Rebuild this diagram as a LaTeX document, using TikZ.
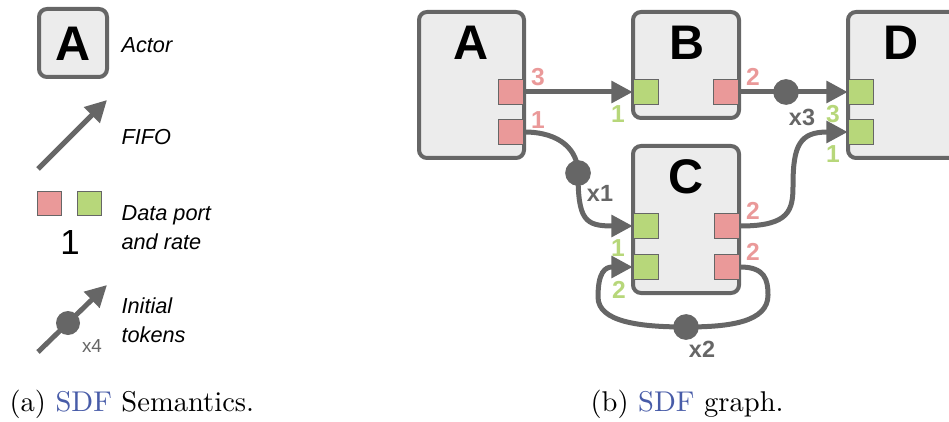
\documentclass[tikz,border=0pt]{standalone}
\usepackage{fontspec}
\newfontfamily\arialfont{Liberation Sans}
\usetikzlibrary{arrows.meta}
\definecolor{linegray}{HTML}{666666}
\definecolor{boxfill}{HTML}{ECECEC}
\definecolor{outred}{HTML}{EA9999}
\definecolor{ingreen}{HTML}{B7D77A}
\definecolor{linkblue}{RGB}{72,92,168}

\begin{document}
\begin{tikzpicture}[x=0.35pt,y=-0.35pt,
  actor/.style={draw=linegray, line width=1.4pt, fill=boxfill, rounded corners=2.8pt, inner sep=0pt},
  port/.style={draw=linegray, line width=0.5pt, minimum size=8.8pt, inner sep=0pt},
  outport/.style={port, fill=outred},
  inport/.style={port, fill=ingreen},
  fifo/.style={draw=linegray, line width=1.75pt, -{Triangle[length=7.5pt,width=7.5pt]}},
  token/.style={circle, fill=linegray, minimum size=9pt, inner sep=0pt},
  letter/.style={font=\arialfont\bfseries\fontsize{17}{17}\selectfont, inner sep=0pt},
  legendtxt/.style={font=\arialfont\itshape\fontsize{7.6}{9.9}\selectfont, anchor=base west, align=left, inner sep=0pt},
  outrate/.style={font=\arialfont\bfseries\fontsize{8.6}{8.6}\selectfont, text=outred, inner sep=0pt},
  inrate/.style={font=\arialfont\bfseries\fontsize{8.6}{8.6}\selectfont, text=ingreen, inner sep=0pt},
  count/.style={font=\arialfont\bfseries\fontsize{8.2}{8.2}\selectfont, text=linegray, inner sep=0pt},
  caption/.style={font=\fontsize{10}{12}\selectfont, anchor=base west, inner sep=0pt}
]
\useasboundingbox (0,0) rectangle (949,421);

% ---------------- legend ----------------
\node[actor, minimum width=23.8pt, minimum height=23.8pt] (legA) at (73,43) {};
\node[letter] (legAtxt) at (73,44) {A};
\node[legendtxt] (legActor) at (121,53) {Actor};

\coordinate (fifoS) at (38,169);
\coordinate (fifoE) at (107,100);
\draw[fifo] (fifoS) -- (fifoE);
\node[legendtxt] (legFifo) at (121,145) {FIFO};

\node[outport, minimum size=8.4pt] (legOut) at (49.5,203.5) {};
\node[inport, minimum size=8.4pt] (legIn) at (89.5,203.5) {};
\node[font=\arialfont\fontsize{12.2}{12.2}\selectfont, inner sep=0pt] (legRate) at (70,243) {1};
% the base anchor of a two-line node sits on its last line
\node[legendtxt] (legPort) at (121,249) {Data port\\and rate};

\coordinate (tokS) at (38,352);
\coordinate (tokE) at (107,285);
\draw[fifo] (tokS) -- (tokE);
\node[token, minimum size=8.4pt] (legTok) at (68,323) {};
\node[font=\arialfont\fontsize{6.6}{6.6}\selectfont, text=linegray, inner sep=0pt] (legX4) at (92,346) {x4};
\node[legendtxt] (legTokens) at (121,342) {Initial\\tokens};

% ---------------- actors ----------------
\node[actor, minimum width=36.75pt, minimum height=51.1pt] (A) at (471.5,85) {};
\node[actor, minimum width=37.1pt, minimum height=37.1pt] (B) at (686,65) {};
\node[actor, minimum width=37.1pt, minimum height=51.45pt] (C) at (686,219.5) {};
\node[actor, minimum width=39.2pt, minimum height=51.1pt] (D) at (904,85) {};

\node[letter] (Atxt) at (471,43) {A};
\node[letter] (Btxt) at (687,43) {B};
\node[letter] (Ctxt) at (686,177) {C};
\node[letter] (Dtxt) at (901,43) {D};

% ports
\node[outport] (A3) at (511,92) {};
\node[outport] (A1) at (511,132) {};
\node[inport] (Bin) at (646,92) {};
\node[outport] (Bout) at (726,92) {};
\node[inport] (Din1) at (861,92) {};
\node[inport] (Din2) at (861,132) {};
\node[inport] (Cin1) at (646,226) {};
\node[inport] (Cin2) at (646,267) {};
\node[outport] (Cout1) at (727,226) {};
\node[outport] (Cout2) at (727,267) {};

% rates
\node[outrate] (rA3) at (538,77) {3};
\node[outrate] (rA1) at (538,120) {1};
\node[inrate] (rBin) at (618,114) {1};
\node[outrate] (rBout) at (753,77) {2};
\node[inrate] (rDin1) at (833,114) {3};
\node[inrate] (rDin2) at (833,154) {1};
\node[inrate] (rCin1) at (618,248) {1};
\node[inrate] (rCin2) at (619,290) {2};
\node[outrate] (rCout1) at (753,211) {2};
\node[outrate] (rCout2) at (753,252) {2};

% initial tokens
\node[token] (t1) at (578,173) {};
\node[token] (t2) at (686,327) {};
\node[token] (t3) at (786,92) {};
\node[count] (n1) at (600,193) {x1};
\node[count] (n2) at (702,349) {x2};
\node[count] (n3) at (802,117) {x3};

% ---------------- FIFOs ----------------
\draw[fifo] (A3.east) -- (Bin.west);
\draw[fifo] (Bout.east) -- (t3.center) -- (Din1.west);
\draw[fifo] (A1.east) .. controls (560,132) and (578,150) .. (t1.center)
  .. controls (578,220) and (585,226) .. (Cin1.west);
\draw[fifo] (Cout1.east) .. controls (790,226) and (793,210) .. (793,185)
  .. controls (793,145) and (800,132) .. (Din2.west);
\draw[fifo] (Cout2.east) .. controls (765,267) and (768,280) .. (768,295)
  .. controls (768,322) and (730,327) .. (t2.center)
  .. controls (640,327) and (598,322) .. (598,297)
  .. controls (598,272) and (605,267) .. (Cin2.west);

% ---------------- captions ----------------
\node[caption] (capA) at (9,411) {(a) {\color{linkblue}SDF} Semantics.};
\node[caption] (capB) at (590,411) {(b) {\color{linkblue}SDF} graph.};
\end{tikzpicture}
\end{document}
